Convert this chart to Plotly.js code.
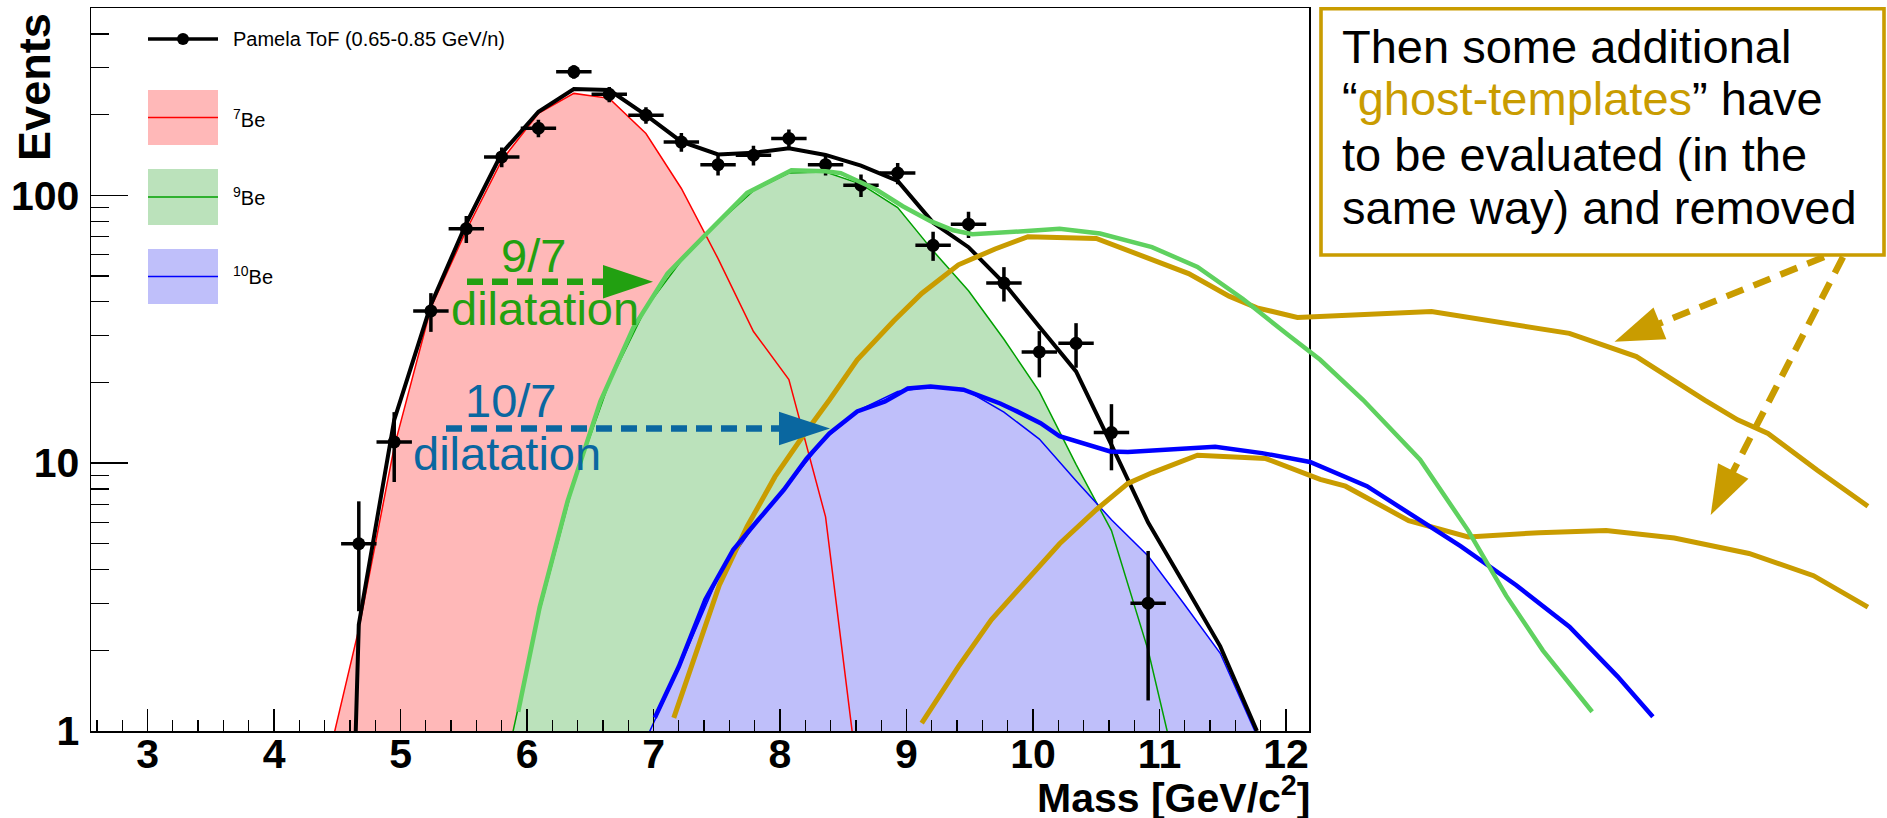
<!DOCTYPE html>
<html>
<head>
<meta charset="utf-8">
<script src="https://cdn.plot.ly/plotly-3.0.1.min.js"></script>
<style>
  html, body { margin: 0; padding: 0; background: #ffffff; }
  #chart { width: 1887px; height: 818px; }
</style>
</head>
<body>
<div id="chart"></div>
<script>
// ---- measured data: Pamela ToF, 0.65-0.85 GeV/n ----
const massBins = [4.67, 4.95, 5.24, 5.52, 5.80, 6.09, 6.37, 6.65, 6.94, 7.22, 7.51, 7.79,
                  8.07, 8.36, 8.64, 8.93, 9.21, 9.49, 9.77, 10.05, 10.34, 10.62, 10.91];
const events = [5, 12, 37, 75, 139, 178, 289, 238, 199, 158, 130, 141,
                163, 130, 109, 121, 65, 78, 47, 26, 28, 13, 3];
const eventErr = [2.2, 3.5, 6.1, 8.7, 11.8, 13.3, 17.0, 15.4, 14.1, 12.6, 11.4, 11.9,
                  12.8, 11.4, 10.4, 11.0, 8.1, 8.8, 6.9, 5.1, 5.3, 3.6, 1.7];
const binHalfWidth = 0.14;

// ---- isotope templates ----
const be7Mass = [4.39, 4.67, 4.95, 5.24, 5.52, 5.80, 6.09, 6.37, 6.65, 6.94, 7.22, 7.51, 7.79, 8.07, 8.36, 8.64];
const be7Counts = [0.66, 2.4, 11.5, 38, 74, 135, 202, 240, 230, 170, 106, 58, 31, 20.5, 6.3, 0.54];

const be9Mass = [5.80, 6.09, 6.37, 6.65, 6.94, 7.22, 7.51, 7.79, 8.07, 8.36, 8.64, 8.93, 9.21, 9.49,
                 9.77, 10.05, 10.34, 10.62, 10.91, 11.19];
const be9Counts = [0.64, 2.7, 8.5, 20, 38, 57, 79, 104, 121, 122, 110, 90, 62, 44,
                   29, 18.5, 9.9, 5.6, 2.0, 0.55];

const be10Mass = [6.94, 7.22, 7.51, 7.79, 8.07, 8.36, 8.64, 8.93, 9.21, 9.49, 9.77, 10.05,
                  10.34, 10.62, 10.91, 11.19, 11.48, 11.77];
const be10Counts = [0.93, 1.8, 3.75, 5.8, 8.4, 12.4, 15.9, 18.5, 19.3, 18.5, 15.5, 12.3,
                    8.6, 6.15, 4.5, 3.0, 1.95, 0.96];

// ---- total fit ----
const fitMass = [4.64, 4.67, 4.95, 5.24, 5.52, 5.80, 6.09, 6.37, 6.65, 6.94, 7.22, 7.51, 7.79,
                 8.07, 8.36, 8.64, 8.93, 9.21, 9.49, 9.77, 10.05, 10.34, 10.62, 10.91, 11.19, 11.48, 11.77];
const fitCounts = [0.8, 2.5, 14.5, 39, 78.6, 143.5, 205, 249, 247, 199, 158.6, 142, 144,
                   149.6, 141.4, 129, 113, 79, 64, 47, 32.3, 22, 11.7, 6.0, 3.57, 2.07, 1.0];

// ---- dilated templates (9/7 and 10/7) ----
const dil9Mass = [5.93, 6.10, 6.32, 6.58, 6.84, 7.11, 7.42, 7.74, 8.09, 8.36, 8.48, 8.76, 8.97, 9.19,
                  9.37, 9.52, 9.85, 10.21, 10.53, 10.94, 11.30, 11.66, 12.02, 12.27, 12.61, 13.06,
                  13.44, 13.74, 14.03, 14.42];
const dil9Counts = [1.18, 2.9, 7.2, 17, 32, 51, 72, 102, 124, 123, 121, 105, 91, 80,
                    74, 71.5, 73, 75, 72, 64, 54, 41, 30, 24.3, 17.2, 10.3,
                    5.6, 3.2, 2.0, 1.18];

const dil10Mass = [7.01, 7.20, 7.41, 7.63, 7.81, 8.03, 8.21, 8.39, 8.61, 8.83, 9.01, 9.19, 9.45,
                   9.74, 9.85, 10.06, 10.21, 10.39, 10.61, 10.75, 11.30, 11.44, 11.81, 12.19,
                   12.64, 12.99, 13.38, 13.82, 14.24, 14.62, 14.90];
const dil10Counts = [1.12, 1.74, 3.1, 4.75, 6.0, 7.95, 10.4, 12.9, 15.6, 17.0, 19.0, 19.3, 18.8,
                     16.7, 15.8, 14.1, 12.6, 11.9, 11.05, 11.0, 11.4, 11.5, 10.9, 10.1,
                     8.2, 6.4, 4.9, 3.5, 2.45, 1.6, 1.13];

// ---- ghost templates ----
const ghostAMass = [7.16, 7.30, 7.52, 7.74, 7.96, 8.18, 8.39, 8.61, 8.90, 9.12, 9.41, 9.70, 9.96,
                    10.50, 10.94, 11.23, 11.55, 11.77, 12.09, 13.15, 14.24, 14.77, 15.31, 15.57,
                    15.81, 16.20, 16.60];
const ghostACounts = [1.12, 1.74, 3.5, 5.8, 8.9, 12.6, 17.2, 24.3, 34, 43, 55, 63, 70,
                      69, 57.5, 51, 42, 38, 35, 36.8, 30.5, 25, 17.2, 14.5,
                      12.9, 9.4, 6.9];

const ghostBMass = [9.12, 9.41, 9.67, 9.96, 10.21, 10.50, 10.75, 10.94, 11.30, 11.84, 12.27, 12.47,
                    12.97, 13.44, 14.00, 14.53, 15.07, 15.66, 16.17, 16.60];
const ghostBCounts = [1.07, 1.74, 2.6, 3.7, 5.0, 6.7, 8.4, 9.2, 10.7, 10.4, 8.7, 8.2,
                      6.1, 5.3, 5.5, 5.6, 5.25, 4.6, 3.8, 2.9];

// ---- axis ticks ----
const xTickStep = 1;
const xMinorStep = 0.2;
const yTickVals = [1, 10, 100];
const yTickText = ['1', '10', '100'];
const yMinorVals = [2, 3, 4, 5, 6, 7, 8, 9, 20, 30, 40, 50, 60, 70, 80, 90, 200, 300, 400];

// ---- page geometry ----
const FIG_W = 1887, FIG_H = 818;
const MARGIN = {l: 91, r: 10, t: 8, b: 87};
const PLOT_W = FIG_W - MARGIN.l - MARGIN.r;
const PLOT_H = FIG_H - MARGIN.t - MARGIN.b;
const FRAME_W = 1218.3;
const X_RANGE = [2.553, 12.184];
const LOG_Y_RANGE = [0, 2.699];
const MAIN_END = FRAME_W / PLOT_W;
const X2_RANGE = [X_RANGE[0], X_RANGE[0] + (X_RANGE[1] - X_RANGE[0]) / MAIN_END];

const FONT = 'Liberation Sans, Arial, Helvetica, sans-serif';
const RED = '#ff0000', GREEN = '#00a000', BLUE = '#0000ff';
const FILL_RED = '#ffb8b8', FILL_GREEN = '#bbe2bb', FILL_BLUE = '#bfbffa';
const LIGHT_GREEN = '#5fd15f', GOLD = '#c99c00';
const NOTE_GREEN = '#22a011', NOTE_BLUE = '#0a67a0';

// pixel position on the page -> paper fraction
const fx = p => (p - MARGIN.l) / PLOT_W;
const fy = p => (FIG_H - MARGIN.b - p) / PLOT_H;

// ---- traces ----
const traces = [];
const fillTrace = (x, y, color) => ({
  x, y, xaxis: 'x', yaxis: 'y', mode: 'none', fill: 'tozeroy', fillcolor: color,
  hoverinfo: 'skip', showlegend: false
});
const lineTrace = (x, y, color, width, axis) => ({
  x, y, xaxis: axis || 'x', yaxis: 'y', mode: 'lines',
  line: {color, width, shape: 'linear'}, hoverinfo: 'skip', showlegend: false
});

traces.push(fillTrace(be7Mass, be7Counts, FILL_RED));
traces.push(fillTrace(be9Mass, be9Counts, FILL_GREEN));
traces.push(fillTrace(be10Mass, be10Counts, FILL_BLUE));
traces.push(lineTrace(be7Mass, be7Counts, RED, 1.5));
traces.push(lineTrace(be9Mass, be9Counts, GREEN, 1.5));
traces.push(lineTrace(be10Mass, be10Counts, BLUE, 1.5));
traces.push(lineTrace(fitMass, fitCounts, '#000000', 4));
traces.push({
  x: massBins, y: events, xaxis: 'x', yaxis: 'y', mode: 'markers',
  marker: {color: '#000000', size: 13, symbol: 'circle'},
  error_y: {type: 'data', array: eventErr, visible: true, color: '#000000', thickness: 3.5, width: 0},
  error_x: {type: 'constant', value: binHalfWidth, visible: true, color: '#000000', thickness: 3.5, width: 0},
  hoverinfo: 'skip', showlegend: false
});
traces.push(lineTrace(ghostAMass, ghostACounts, GOLD, 5, 'x2'));
traces.push(lineTrace(ghostBMass, ghostBCounts, GOLD, 5, 'x2'));
traces.push(lineTrace(dil10Mass, dil10Counts, BLUE, 4.5, 'x2'));
traces.push(lineTrace(dil9Mass, dil9Counts, LIGHT_GREEN, 4.5, 'x2'));

// ---- decorations ----
const shapes = [];
const rect = (x0, y0, x1, y1, fill, lineColor, lineWidth) => ({
  type: 'rect', xref: 'paper', yref: 'paper', layer: 'above',
  x0: fx(x0), x1: fx(x1), y0: fy(y1), y1: fy(y0),
  fillcolor: fill, line: {color: lineColor || 'rgba(0,0,0,0)', width: lineWidth || 0}
});
const seg = (x0, y0, x1, y1, color, width, dash) => ({
  type: 'line', xref: 'paper', yref: 'paper', layer: 'above',
  x0: fx(x0), x1: fx(x1), y0: fy(y0), y1: fy(y1),
  line: {color, width, dash: dash || 'solid'}
});
const poly = (pts, color) => ({
  type: 'path', xref: 'paper', yref: 'paper', layer: 'above',
  path: 'M' + pts.map(p => fx(p[0]) + ',' + fy(p[1])).join(' L') + ' Z',
  fillcolor: color, line: {color, width: 0}
});
function dashedArrow(tail, tip, headLen, halfW, color, width, dash) {
  const dx = tip[0] - tail[0], dy = tip[1] - tail[1];
  const len = Math.hypot(dx, dy), ux = dx / len, uy = dy / len;
  const base = [tip[0] - ux * headLen, tip[1] - uy * headLen];
  shapes.push(seg(tail[0], tail[1], base[0] + ux * 2, base[1] + uy * 2, color, width, dash));
  shapes.push(poly([tip, [base[0] - uy * halfW, base[1] + ux * halfW],
                    [base[0] + uy * halfW, base[1] - ux * halfW]], color));
}

// legend block
shapes.push(seg(148, 39, 218, 39, '#000000', 3.5));
shapes.push({type: 'circle', xref: 'paper', yref: 'paper', layer: 'above',
             x0: fx(177), x1: fx(189), y0: fy(45), y1: fy(33),
             fillcolor: '#000000', line: {color: '#000000', width: 0}});
[[90, 145, FILL_RED, RED], [169, 225, FILL_GREEN, GREEN], [249, 304, FILL_BLUE, BLUE]].forEach(r => {
  shapes.push(rect(148, r[0], 218, r[1], r[2]));
  shapes.push(seg(148, (r[0] + r[1]) / 2, 218, (r[0] + r[1]) / 2, r[3], 1.6));
});

// dilatation arrows
dashedArrow([467, 281.7], [653, 281.7], 50, 16.7, NOTE_GREEN, 6.5, '16px,9px');
dashedArrow([446, 428.5], [830, 428.5], 51, 16.7, NOTE_BLUE, 6.5, '16px,9px');

// note box and its arrows
shapes.push(rect(1321, 8.7, 1884, 255, '#ffffff', GOLD, 3.6));
dashedArrow([1824, 257], [1614.5, 341.7], 49, 17.2, GOLD, 6.5, '18px,11px');
dashedArrow([1843, 257], [1710.7, 515], 49.4, 17.1, GOLD, 6.5, '18px,11px');

// ---- text ----
const annotations = [];
function label(str, x, baseline, size, color, anchor, extra) {
  annotations.push(Object.assign({
    xref: 'paper', yref: 'paper', x: fx(x), y: fy(baseline + 0.212 * size),
    xanchor: anchor || 'left', yanchor: 'bottom', text: str, showarrow: false,
    borderpad: 0, borderwidth: 0, font: {family: FONT, size: size, color: color || '#000000'}
  }, extra || {}));
}

// axis titles
label('Mass [GeV/c<sup>2</sup>]', 1310, 812, 41, '#000000', 'right',
      {font: {family: FONT, size: 41, color: '#000000', weight: 'bold'}});
annotations.push({
  xref: 'paper', yref: 'paper', x: fx(34.4), y: fy(86.5), xanchor: 'center', yanchor: 'middle',
  text: 'Events', textangle: -90, showarrow: false, borderpad: 0, borderwidth: 0,
  font: {family: FONT, size: 45, color: '#000000', weight: 'bold'}
});

// legend labels
label('Pamela ToF (0.65-0.85 GeV/n)', 233, 45.7, 20);
label('<sup>7</sup>Be', 233, 126.7, 20);
label('<sup>9</sup>Be', 233, 205, 20);
label('<sup>10</sup>Be', 233, 284, 20);

// dilatation notes
label('9/7', 533, 271.7, 47, NOTE_GREEN, 'center');
label('dilatation', 545, 325, 47, NOTE_GREEN, 'center');
label('10/7', 510, 416.7, 47, NOTE_BLUE, 'center');
label('dilatation', 507, 470, 47, NOTE_BLUE, 'center');

// note box text
label('Then some additional', 1342, 63.3, 47);
label('\u201c<span style="color:' + GOLD + '">ghost-templates</span>\u201d have', 1342, 115, 47);
label('to be evaluated (in the', 1342, 170.7, 47);
label('same way) and removed', 1342, 224, 47);

const tickFont = {family: FONT, size: 41, color: '#000000', weight: 'bold'};

const layout = {
  width: FIG_W, height: FIG_H,
  margin: {l: MARGIN.l, r: MARGIN.r, t: MARGIN.t, b: MARGIN.b, pad: 0},
  paper_bgcolor: '#ffffff', plot_bgcolor: 'rgba(0,0,0,0)',
  showlegend: false,
  font: {family: FONT, color: '#000000'},
  xaxis: {
    domain: [0, MAIN_END], range: X_RANGE, type: 'linear', anchor: 'y',
    showline: true, linecolor: '#000000', linewidth: 1.5, mirror: true,
    ticks: 'inside', ticklen: 22, tickwidth: 1.3, tickcolor: '#000000',
    tickmode: 'linear', tick0: 0, dtick: xTickStep,
    minor: {ticks: 'inside', ticklen: 11, tickwidth: 1.3, tickcolor: '#000000', tick0: 0, dtick: xMinorStep},
    showgrid: false, zeroline: false, tickfont: tickFont, ticklabelstandoff: -14, fixedrange: true
  },
  xaxis2: {domain: [0, 1], range: X2_RANGE, type: 'linear', anchor: 'y', visible: false, fixedrange: true},
  yaxis: {
    domain: [0, 1], type: 'log', range: LOG_Y_RANGE, anchor: 'x',
    showline: true, linecolor: '#000000', linewidth: 1.5, mirror: true,
    ticks: 'inside', ticklen: 37, tickwidth: 1.3, tickcolor: '#000000',
    tickmode: 'array', tickvals: yTickVals, ticktext: yTickText,
    minor: {ticks: 'inside', ticklen: 18, tickwidth: 1.3, tickcolor: '#000000', tickmode: 'array', tickvals: yMinorVals},
    showgrid: false, zeroline: false, tickfont: tickFont, ticklabelstandoff: 2, fixedrange: true
  },
  shapes, annotations
};

Plotly.newPlot('chart', traces, layout, {staticPlot: true, displayModeBar: false});
</script>
</body>
</html>
